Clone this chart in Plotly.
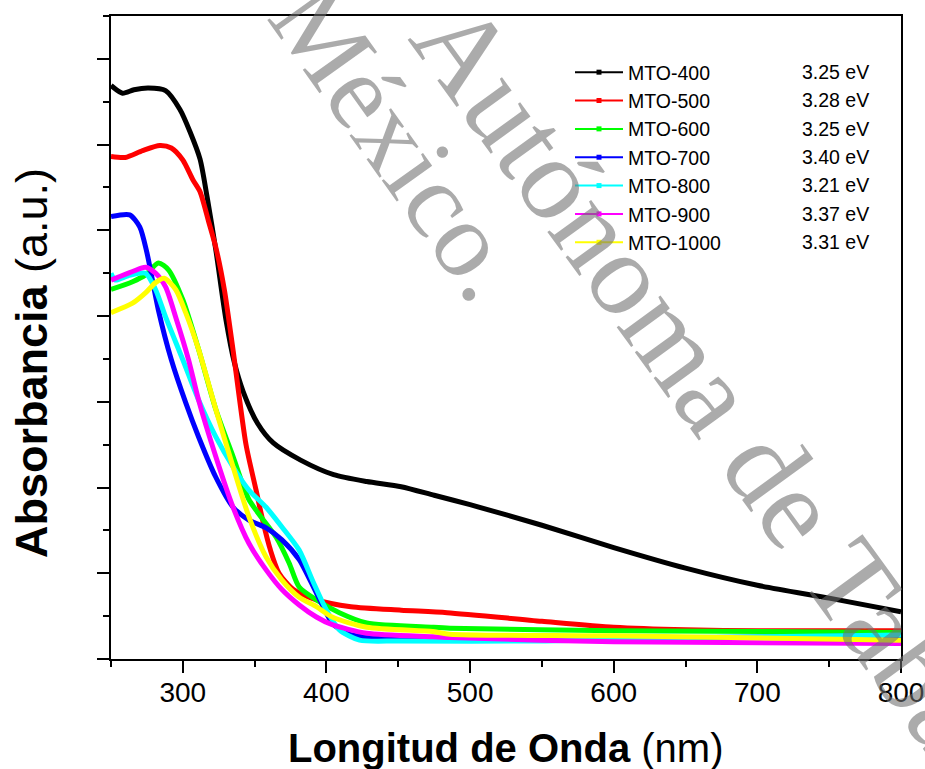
import plotly.graph_objects as go

# ---------------- data ----------------
names = ["MTO-400", "MTO-500", "MTO-600", "MTO-700", "MTO-800", "MTO-900", "MTO-1000"]
gaps = ["3.25 eV", "3.28 eV", "3.25 eV", "3.40 eV", "3.21 eV", "3.37 eV", "3.31 eV"]
colors = ["#000000", "#ff0000", "#00ff00", "#0000ff", "#00ffff", "#ff00ff", "#ffff00"]

wl_400 = [250, 258, 266, 276, 288, 298, 305, 312, 317, 323, 330, 336, 342, 352, 363, 382, 405, 428, 452, 475, 500, 550, 600, 650, 700, 750, 800]
ab_400 = [6.69, 6.60, 6.64, 6.66, 6.63, 6.41, 6.15, 5.83, 5.38, 4.77, 3.96, 3.45, 3.12, 2.75, 2.52, 2.32, 2.15, 2.07, 2.01, 1.91, 1.80, 1.56, 1.30, 1.06, 0.86, 0.71, 0.55]

wl_500 = [250, 260, 272, 284, 292, 300, 307, 312, 318, 323, 329, 335, 344, 351, 356, 361, 367, 377, 393, 417, 452, 484, 550, 600, 650, 700, 800]
ab_500 = [5.86, 5.85, 5.93, 5.99, 5.96, 5.82, 5.59, 5.45, 5.10, 4.80, 4.30, 3.60, 2.50, 1.97, 1.59, 1.27, 1.00, 0.81, 0.69, 0.61, 0.57, 0.54, 0.44, 0.37, 0.34, 0.33, 0.33]

wl_600 = [250, 265, 274, 283, 290, 300, 311, 323, 335, 346, 365, 374, 381, 393, 409, 428, 474, 486, 600, 800]
ab_600 = [4.31, 4.40, 4.48, 4.62, 4.54, 4.19, 3.61, 2.91, 2.36, 1.86, 1.42, 1.12, 0.84, 0.69, 0.54, 0.42, 0.37, 0.36, 0.33, 0.31]

wl_700 = [250, 263, 270, 275, 283, 292, 302, 311, 323, 335, 346, 358, 369, 381, 393, 404, 414, 430, 500, 600, 800]
ab_700 = [5.16, 5.18, 5.04, 4.74, 4.07, 3.49, 2.99, 2.59, 2.12, 1.77, 1.62, 1.53, 1.39, 1.16, 0.77, 0.42, 0.30, 0.25, 0.24, 0.24, 0.27]

wl_800 = [250, 253, 262, 274, 281, 288, 300, 311, 323, 335, 346, 358, 369, 381, 391, 400, 409, 423, 450, 550, 600, 650, 800]
ab_800 = [4.50, 4.42, 4.47, 4.50, 4.31, 3.99, 3.49, 3.02, 2.59, 2.24, 1.97, 1.77, 1.54, 1.27, 0.89, 0.57, 0.34, 0.22, 0.21, 0.21, 0.23, 0.25, 0.28]

wl_900 = [250, 265, 274, 281, 288, 295, 304, 311, 323, 335, 346, 358, 369, 381, 393, 404, 428, 474, 486, 600, 800]
ab_900 = [4.42, 4.52, 4.57, 4.50, 4.34, 3.99, 3.49, 3.02, 2.36, 1.77, 1.35, 1.04, 0.81, 0.63, 0.49, 0.40, 0.30, 0.26, 0.25, 0.20, 0.18]

wl_1000 = [250, 265, 274, 281, 287, 295, 302, 311, 323, 335, 346, 358, 369, 381, 393, 404, 428, 474, 486, 600, 800]
ab_1000 = [4.04, 4.15, 4.27, 4.39, 4.44, 4.31, 4.04, 3.61, 2.91, 2.24, 1.66, 1.19, 0.92, 0.72, 0.61, 0.49, 0.37, 0.32, 0.29, 0.27, 0.22]

x_tick_vals = [300, 400, 500, 600, 700, 800]
x_tick_text = ["300", "400", "500", "600", "700", "800"]

series_x = [wl_400, wl_500, wl_600, wl_700, wl_800, wl_900, wl_1000]
series_y = [ab_400, ab_500, ab_600, ab_700, ab_800, ab_900, ab_1000]

FONT = "Arial, 'Liberation Sans', sans-serif"

fig = go.Figure()

for xs, ys, c in zip(series_x, series_y, colors):
    fig.add_trace(go.Scatter(
        x=xs, y=ys, mode="lines", showlegend=False, hoverinfo="skip",
        line=dict(color=c, width=5, shape="spline", smoothing=0.7),
    ))

# legend entries (line + small square symbol)
for n, c in zip(names, colors):
    fig.add_trace(go.Scatter(
        x=[None], y=[None], mode="lines+markers", name=n,
        line=dict(color=c, width=2),
        marker=dict(symbol="square", size=5, color=c),
    ))

# --- layout geometry (pixels) ---
W, H = 925, 769
L, R, T, B = 111, 24, 16, 110
pw, ph = W - L - R, H - T - B
LEG_FS = 19.5
ROW = LEG_FS * 1.3 + 3


def px(xp):
    return (xp - L) / pw


def py(yp):
    return (H - B - yp) / ph


annotations = []
# band-gap column
for i, g in enumerate(gaps):
    annotations.append(dict(
        xref="paper", yref="paper", x=px(800), y=py(72 + i * ROW),
        xanchor="left", yanchor="middle", showarrow=False, text=g,
        font=dict(family=FONT, size=LEG_FS, color="black"),
    ))

# axis titles
annotations.append(dict(
    xref="paper", yref="paper", x=px(506), y=py(748), xanchor="center", yanchor="middle",
    showarrow=False, text="<b>Longitud de Onda</b> (nm)",
    font=dict(family=FONT, size=40, color="black"),
))
annotations.append(dict(
    xref="paper", yref="paper", x=px(32), y=py(363), xanchor="center", yanchor="middle",
    showarrow=False, text="<b>Absorbancia</b> (a.u.)", textangle=-90,
    font=dict(family=FONT, size=45, color="black"),
))

# watermark
wm_font = "'Liberation Serif', 'Times New Roman', serif"
annotations.append(dict(
    xref="paper", yref="paper", x=px(399), y=py(141), xanchor="center", yanchor="middle",
    showarrow=False, text="México.", textangle=54.5,
    font=dict(family=wm_font, size=108, color="rgba(110,110,110,0.58)"),
))
annotations.append(dict(
    xref="paper", yref="paper", x=px(748), y=py(440), xanchor="center", yanchor="middle",
    showarrow=False, text="Autónoma de Tabasco", textangle=54,
    font=dict(family=wm_font, size=118, color="rgba(110,110,110,0.58)"),
))

fig.update_layout(
    width=W, height=H,
    margin=dict(l=L, r=R, t=T, b=B, pad=0, autoexpand=False),
    paper_bgcolor="white", plot_bgcolor="white",
    font=dict(family=FONT, color="black"),
    showlegend=True,
    legend=dict(
        x=px(570), y=py(53), xanchor="left", yanchor="top",
        bgcolor="rgba(0,0,0,0)", borderwidth=0,
        font=dict(family=FONT, size=LEG_FS, color="black"),
        itemwidth=48, tracegroupgap=0, itemclick=False,
    ),
    annotations=annotations,
    xaxis=dict(
        range=[250, 800], tickmode="array", tickvals=x_tick_vals, ticktext=x_tick_text,
        ticks="outside", ticklen=12, tickwidth=2, tickcolor="black",
        showline=True, linewidth=2, linecolor="black", mirror=True,
        showgrid=False, zeroline=False, automargin=False,
        ticklabelstandoff=-5,
        tickfont=dict(family=FONT, size=28, color="black"),
        minor=dict(tickmode="linear", tick0=250, dtick=50, ticks="outside", ticklen=6,
                   tickwidth=2, tickcolor="black", showgrid=False),
    ),
    yaxis=dict(
        range=[0, 7.5], tickmode="linear", tick0=0, dtick=1,
        ticks="outside", ticklen=12, tickwidth=2, tickcolor="black",
        showticklabels=False, automargin=False,
        showline=True, linewidth=2, linecolor="black", mirror=True,
        showgrid=False, zeroline=False,
        minor=dict(tickmode="linear", tick0=0, dtick=0.5, ticks="outside", ticklen=6,
                   tickwidth=2, tickcolor="black", showgrid=False),
    ),
)

fig.write_html("out.html")
